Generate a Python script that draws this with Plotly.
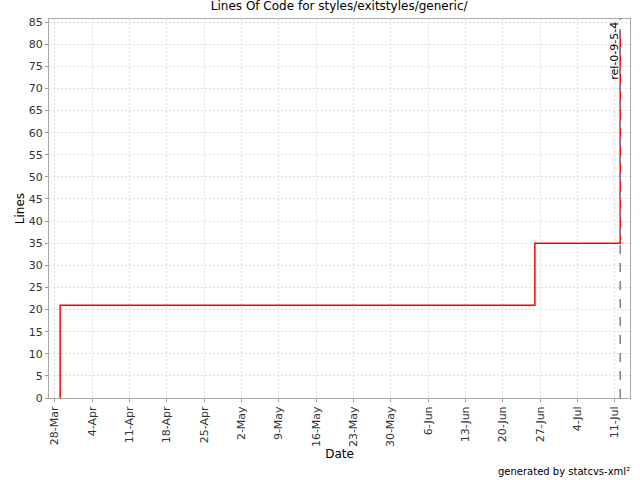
import plotly.graph_objects as go

# Données
dates = ["2005-03-29", "2005-03-29", "2005-06-26", "2005-07-12"]
lignes = [0, 21, 35, 83]
tag_date = "2005-07-12"
tag_nom = "rel-0-9-5-4"

FONT = "DejaVu Sans"

fig = go.Figure(go.Scatter(
    x=dates,
    y=lignes,
    mode="lines",
    line=dict(color="#FF0000", width=1.5, shape="hv"),
    showlegend=False,
))

# Ligne verticale du tag
fig.add_shape(
    type="line", xref="x", yref="paper",
    x0=tag_date, x1=tag_date, y0=0, y1=1,
    line=dict(color="#808080", width=1.5, dash="dash"),
)
fig.add_annotation(
    x=tag_date, y=1, xref="x", yref="paper",
    text=tag_nom, textangle=-90, showarrow=False,
    xanchor="right", yanchor="top", xshift=2, yshift=-1,
    font=dict(family=FONT, size=11, color="#000000"),
)
fig.add_annotation(
    x=1, y=-0.193, xref="paper", yref="paper",
    text="generated by statcvs-xml²", showarrow=False,
    xanchor="right", yanchor="middle", xshift=2,
    font=dict(family=FONT, size=10, color="#000000"),
)

fig.update_layout(
    width=640, height=480,
    paper_bgcolor="white", plot_bgcolor="white",
    font=dict(family=FONT, size=11, color="#333333"),
    margin=dict(l=49, r=10, t=19, b=82),
    title=dict(text="Lines Of Code for styles/exitstyles/generic/",
               x=0.53, xanchor="center", y=0.996, yanchor="top",
               font=dict(family=FONT, size=12, color="#000000")),
    xaxis=dict(
        type="date", automargin=False,
        range=["2005-03-26 22:00", "2005-07-13 20:00"],
        tick0="2005-03-28", dtick=7 * 86400000,
        tickformat="%-d-%b", tickangle=-90,
        showgrid=True, gridcolor="#DDDDDD", griddash="2px,2px", gridwidth=1,
        ticks="outside", ticklen=3, tickcolor="#999999",
        showline=True, linecolor="#AAAAAA", mirror=True,
        title=dict(text="Date", font=dict(family=FONT, size=12, color="#000000"), standoff=0),
        tickfont=dict(size=11, color="#333333"),
    ),
    yaxis=dict(
        automargin=False,
        range=[0, 85.7],
        tick0=0, dtick=5,
        showgrid=True, gridcolor="#DDDDDD", griddash="2px,2px", gridwidth=1,
        ticks="outside", ticklen=3, tickcolor="#999999",
        showline=True, linecolor="#AAAAAA", mirror=True,
        zeroline=False,
        title=dict(text="Lines", font=dict(family=FONT, size=12, color="#000000"), standoff=1),
        tickfont=dict(size=11, color="#333333"),
    ),
)

# la page a une marge de 8px par défaut : on la retire
fig.write_html("out.html", config={"displayModeBar": False},
               post_script="document.body.style.margin='0';")
